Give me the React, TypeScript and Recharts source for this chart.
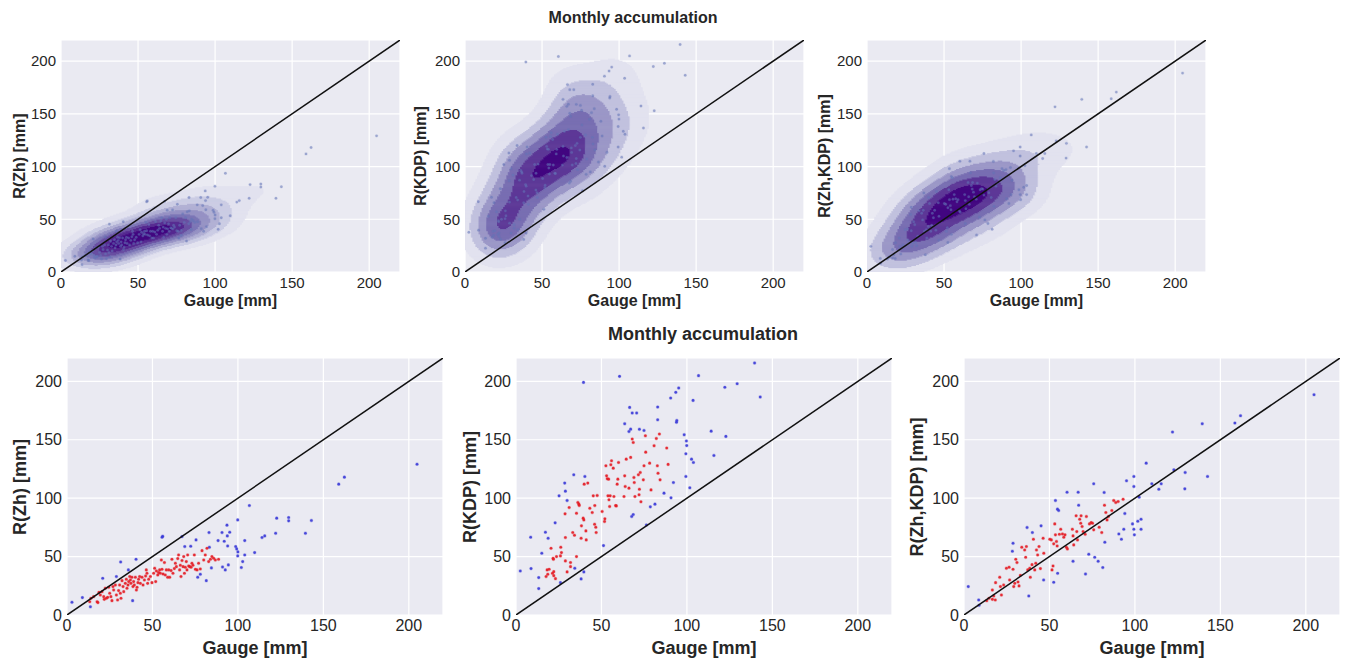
import React from 'react';
import { ScatterChart, Scatter, XAxis, YAxis, CartesianGrid } from 'recharts';

type P = [number, number];

// ---- data: [gauge mm, radar estimate mm] ----
const zhCore: P[] = [
  [13.3,11.4],[14,14.3],[15.6,15.7],[17.6,11.4],[18.1,10.6],[18.7,19.4],[19.5,17.1],[20.5,20],[21.5,15.7],[21.8,13.4],
  [22.4,22.9],[23,14.3],[23.8,15.1],[24.4,23.7],[25,18.6],[25.7,15.7],[26.3,12.3],[26.9,24.3],[27.3,21.4],[28.3,25.7],
  [28.9,17.1],[29.6,12.9],[30.2,20.9],[30.8,25.7],[31.2,18.6],[31.6,14.3],[32.2,29.4],[32.8,24.3],[33.2,20],[34.1,27.1],
  [34.7,30.6],[35.1,22.9],[35.7,25.7],[36.1,28.6],[36.7,32.9],[37.1,30],[37.4,27.1],[38,32.3],[38.6,24.3],[39,28.6],
  [39.4,25.7],[40,32.3],[40.6,21.4],[41,23.7],[41.5,27.7],[41.9,30.6],[42.5,32.9],[42.9,27.1],[43.9,32.3],[44.5,25.7],
  [45.3,30],[46,33.4],[46.4,38.6],[46.8,35.7],[47.2,27.1],[47.8,30.6],[48.8,32.9],[49.7,27.7],[50.7,35.7],[51.3,40],
  [51.9,28.6],[52.3,37.7],[53.1,34.3],[53.6,36.3],[54.2,38.6],[54.6,35.7],[55.2,47.1],[55.6,39.1],[56.2,35.1],[57,44.9],
  [57.5,34.3],[58.1,38.6],[58.9,32.3],[59.5,38.6],[60.1,32.3],[60.9,38],[61.4,47.7],[62,35.7],[62.8,39.7],[63.4,44.3],
  [64,41.4],[64.8,48.3],[65.3,51.4],[65.9,38.6],[66.3,42.6],[66.7,32.9],[67.3,46.6],[67.9,41.4],[68.3,50],[68.7,35.7],
  [69.2,40.9],[69.8,45.7],[70.2,38.6],[70.6,51.4],[71.2,42],[71.8,41.4],[72.6,40.9],[73.1,44.3],[73.7,42.6],[74.5,51.4],
  [75.1,39.1],[76.1,38.6],[77,44.3],[78,39.4],[79,55.1],[80,47.1],[80.9,51.4],[81.9,57.1],[82.9,45.7],[83.9,47.7],
  [84.8,50],[85.8,48.6],[86.8,47.1],[88.7,47.7],
];
const zhOutliers: P[] = [
  [2.9,10.9],[9,14.9],[13.7,7],[20.9,31.4],[28.9,32.9],[31.4,45.4],[35.9,38.6],[38.4,12.3],[40.4,47.7],[55.6,66.6],
  [56,67.4],[67.3,67.1],[68.9,58.6],[72.4,58.9],[75.5,64.3],[76.5,32.3],[78,34.9],[81.5,29.4],[83.1,70.6],[83.3,58],
  [84.5,40.3],[88.4,63.7],[90.7,70.6],[91,41.1],[92,63.1],[92.6,38.6],[93.6,76.9],[93.8,67.7],[94,59.1],[94.4,42.9],
  [95.2,70.9],[98.7,58.6],[99.3,56.6],[99.9,81.4],[99.9,50.6],[100,54],[102,40.6],[102.8,45.7],[104,63.7],[104,51.4],
  [106.7,93.7],[109.8,53.4],[114.1,66.3],[115.7,67.7],[122.1,70],[122.7,82.9],[129.7,83.4],[129.7,80.6],[139.5,70],[143,80.9],
  [159,112],[162.3,118],[204.8,129.1],
];

const kdpCore: P[] = [
  [18.2,38.6],[19.4,39.1],[17.6,32.9],[18.6,34.9],[21.3,35.7],[22.1,33.7],[23.1,31.1],[22.1,37.1],[20.5,57.1],[21.7,48.6],
  [21.9,47.7],[23.7,50],[26,50.6],[26.2,58],[26.6,53.4],[28.9,46.3],[28.9,66.3],[28.7,86.6],[29.9,36.9],[31.1,92],
  [31.9,44.9],[31.9,41.4],[33.2,70.6],[34.2,68.3],[35.4,50],[35.4,87.1],[36.2,96.3],[36.8,94.9],[37,93.7],[38.3,76.3],
  [38.1,65.7],[39.3,82.9],[39.7,81.4],[39.9,112],[40.9,72],[41.1,64.3],[42,112.9],[43.2,91.4],[44.6,87.7],[45.2,102],
  [46,77.7],[46.1,93.7],[46.7,75.1],[46.9,70.6],[47.5,102.3],[50.4,88.6],[51.8,80],[52,82.3],[52.6,127.7],[53,119.1],
  [53.4,116.6],[53.8,102],[54.2,116.3],[54.4,98.6],[54.8,92.9],[55.1,102],[55.5,128.6],[55.9,132],[56.9,125.7],[57.3,101.4],
  [58.3,93.7],[58.7,93.4],[59.2,112],[59.6,116.3],[60,130.6],[63.2,101.4],[63.6,119.1],[63.9,110],[64.5,133.4],[66.1,108.6],
  [67.1,134.9],[68,150.6],[68.6,147.7],[69,117.7],[69.2,113.4],[69.6,101.4],[71.6,120],[72,102.9],[72.2,107.7],[72.7,122],
  [73.1,96.9],[74.5,115.7],[74.9,127.7],[75.7,153.4],[75.9,139.4],[78.2,130],[79,107.1],[80.8,144.9],[82.1,151.1],[82.7,127.7],
  [83.1,121.4],[84.3,115.7],[83.9,154.9],[88.2,142.9],[89,128.9],
];
const kdpOutliers: P[] = [
  [2.5,37.7],[8.6,66.6],[8.8,39.7],[13.3,22.6],[13.3,32],[15.1,52.9],[17.2,70.9],[18.8,65.7],[22.9,78.9],[25.2,102],
  [26,27.7],[28.5,112.9],[28.9,106],[29.9,98],[33.8,120],[34.4,40],[38.1,30.9],[39.5,199.1],[39.7,36.9],[40.3,118.6],
  [51.2,59.4],[60.6,204.3],[63.6,163.7],[66.1,157.1],[66.5,177.7],[67.1,159.1],[67.7,84.3],[68.6,86],[68,172.9],[70.6,172.9],
  [72.2,159],[74.9,158],[76.3,77.1],[78.6,92.6],[81.3,94.9],[82.9,178],[82.9,167.1],[86.6,104.3],[90.5,185.7],[90.7,100.3],
  [92.1,113.4],[93.5,190.6],[93.9,165],[94.1,166.5],[95.2,194.3],[98.4,154.3],[99.4,138],[99.7,149],[99.9,145],[99.4,118.6],
  [101.7,108.9],[102.7,133.4],[103.8,130.6],[103.6,183.7],[106.8,204.9],[114.2,157.4],[115.8,136.6],[122.2,194.9],[122.8,152.9],[129.4,198],
  [139.6,215.7],[142.9,186.6],
];

const hybCore: P[] = [
  [13.3,12.3],[14.6,14.3],[16.6,13.4],[17.4,16.3],[18.3,12.9],[16.6,21.4],[18.5,27.7],[20.9,32.3],[21.3,24.3],[21.9,17.1],
  [23.2,25.7],[24.8,40],[26.4,40.9],[26.7,30],[28.7,39.1],[29.1,24.3],[29.7,27.1],[30.3,47.7],[31,44.9],[31.6,28.3],
  [32.2,24.9],[33,34],[33.8,58],[35.5,55.7],[36.1,49.4],[36.5,58.6],[37.3,38.6],[38.5,40],[38.8,32.3],[39.8,43.1],
  [40.6,64.9],[41.4,38.6],[42,44.3],[42.4,55.7],[43.1,51.4],[43.9,58.6],[44.7,39.7],[46.3,65.7],[46.7,52.9],[50.2,64.9],
  [51.1,64.3],[51.5,38.6],[52.1,42],[52.5,60.9],[53.1,78],[53.5,68.6],[54.1,62.9],[54.5,59.1],[55.8,69.1],[56.6,73.4],
  [57.6,69.4],[58.4,66.6],[59.1,68.6],[59.9,58],[60.5,56.6],[63.4,73.4],[63.8,67.7],[64.2,60],[65.6,84.9],[66,71.4],
  [66.4,64.3],[67.7,82],[68.3,78.6],[68.5,84.9],[69.1,75.7],[69.7,71.4],[70.9,69.1],[71.6,84.3],[73.4,78],[74.4,79.1],
  [75.2,78.6],[75.9,72.9],[79.1,75.1],[80.6,70.6],[82.2,94],[83,87.7],[83.7,81.4],[84.5,84.3],[86.5,89.4],[87.6,98],
  [88.8,96.3],[90.2,97.1],[93.1,99.1],
];
const hybOutliers: P[] = [
  [2.5,24.3],[8.6,12.9],[8.8,8.3],[28.7,61.4],[28.3,54.6],[36.9,74.9],[37.9,16.3],[40,70.6],[45.1,76.3],[46.6,30],
  [52.5,28],[53.5,98],[54.7,90.6],[55.4,89.4],[54.8,35.7],[60.3,105.1],[63.8,46],[66.8,105.1],[67.1,94],[71.1,35.1],
  [73,52],[75.9,112.3],[76.5,49.4],[78.5,46],[81.2,40.6],[82,104.9],[82.4,62.3],[90.6,69.4],[92.1,64.9],[93.5,73.4],
  [94.1,86.9],[95.1,114.9],[98.6,78],[99.4,73.4],[99.7,68.6],[99.4,118.6],[99.4,110],[101.7,80.3],[102.5,100.9],[103.6,82],
  [103.6,73.4],[106.6,130],[109.9,112.3],[114,107.7],[115.4,112.3],[122,156.6],[122.8,124.3],[129.2,108],[129.4,122],[139.4,163.7],
  [142.5,118.6],[158.5,164.3],[161.8,170.6],[204.8,188.6],
];

const TICKS = [0, 50, 100, 150, 200];
const DOMAIN: [number, number] = [0, 220];
const ONE_TO_ONE = [{ x: 0, y: 0 }, { x: 220, y: 220 }];
const TITLE = 'Monthly accumulation';
const X_LABEL = 'Gauge [mm]';
const Y_LABELS = ['R(Zh) [mm]', 'R(KDP) [mm]', 'R(Zh,KDP) [mm]'];

// ---- styling ----
const FONT = '"Liberation Sans", Arial, Helvetica, sans-serif';
const TEXT = '#262626';
const BG = '#EAEAF2';
const PURPLES = ['#fcfbfd', '#efedf5', '#dadaeb', '#bcbddc', '#9e9ac8', '#807dba', '#6a51a3', '#54278f', '#3f007d'];

function hex(c: string) { return [1, 3, 5].map((i) => parseInt(c.slice(i, i + 2), 16)); }
function purples(t: number) {
  const v = Math.max(0, Math.min(1, t)) * (PURPLES.length - 1);
  const i = Math.min(PURPLES.length - 2, Math.floor(v));
  const f = v - i;
  const a = hex(PURPLES[i]), b = hex(PURPLES[i + 1]);
  const m = a.map((x, k) => Math.round(x + (b[k] - x) * f));
  return `rgb(${m[0]},${m[1]},${m[2]})`;
}
function niceStep(raw: number) {
  const e = Math.pow(10, Math.floor(Math.log10(raw)));
  const f = raw / e;
  for (const s of [1, 2, 2.5, 5, 10]) if (s >= f - 1e-12) return s * e;
  return 10 * e;
}
function std(v: number[]) {
  const m = v.reduce((a, b) => a + b, 0) / v.length;
  return Math.sqrt(v.reduce((a, b) => a + (b - m) ** 2, 0) / (v.length - 1));
}

type Run = { x: number; y: number; len: number; band: number };

// Gaussian product-kernel KDE (Scott factor), evenly spaced contour levels, lowest level left unshaded
function kdeRuns(pts: P[]): { runs: Run[]; colors: string[] } {
  const n = pts.length;
  const fac = Math.pow(n, -1 / 6);
  const hx = std(pts.map((p) => p[0])) * fac;
  const hy = std(pts.map((p) => p[1])) * fac;
  const N = 220;
  const Kx = new Float64Array(n * N), Ky = new Float64Array(n * N);
  for (let k = 0; k < n; k++) {
    for (let i = 0; i < N; i++) {
      const dx = (i + 0.5 - pts[k][0]) / hx;
      const dy = (i + 0.5 - pts[k][1]) / hy;
      Kx[k * N + i] = Math.exp(-0.5 * dx * dx);
      Ky[k * N + i] = Math.exp(-0.5 * dy * dy);
    }
  }
  const grid = new Float64Array(N * N);
  for (let k = 0; k < n; k++) {
    const base = k * N;
    for (let j = 0; j < N; j++) {
      const ky = Ky[base + j];
      if (ky < 1e-9) continue;
      const row = j * N;
      for (let i = 0; i < N; i++) grid[row + i] += ky * Kx[base + i];
    }
  }
  let max = 0;
  for (let i = 0; i < grid.length; i++) if (grid[i] > max) max = grid[i];
  const step = niceStep(max / 11);
  const nb = Math.ceil(max / step);
  const colors: string[] = [];
  for (let k = 0; k < nb; k++) colors.push(purples(0.2 + 0.78 * (k - 1) / Math.max(1, nb - 2)));
  const runs: Run[] = [];
  for (let j = 0; j < N; j++) {
    let i = 0;
    while (i < N) {
      const bnd = Math.min(nb - 1, Math.floor(grid[j * N + i] / step));
      let e = i + 1;
      while (e < N && Math.min(nb - 1, Math.floor(grid[j * N + e] / step)) === bnd) e++;
      if (bnd >= 1) runs.push({ x: (i + e) / 2, y: j + 0.5, len: e - i, band: bnd });
      i = e;
    }
  }
  return { runs, colors };
}

const toXY = (arr: P[]) => arr.map(([x, y]) => ({ x, y }));

type RowCfg = { top: number; h: number; w: number; lefts: number[]; tickFont: number; labelFont: number; xLabelY: number; yLabelDx: number[] };
const TOP_ROW: RowCfg = { top: 40, h: 232, w: 339, lefts: [61, 465, 867], tickFont: 15, labelFont: 16, xLabelY: 301, yLabelDx: [-41, -44, -42] };
const BOT_ROW: RowCfg = { top: 358, h: 257, w: 376, lefts: [67, 516, 964], tickFont: 16, labelFont: 18, xLabelY: 648, yLabelDx: [-47, -46, -47] };

const DATASETS = [
  { core: zhCore, out: zhOutliers },
  { core: kdpCore, out: kdpOutliers },
  { core: hybCore, out: hybOutliers },
];

function Panel({ row, idx, kde }: { row: RowCfg; idx: number; kde: boolean }) {
  const YW = 60, MT = 10, MR = 6, XH = 40;
  const left = row.lefts[idx];
  const { core, out } = DATASETS[idx];
  const pxX = row.w / 220, pxY = row.h / 220;
  const all = React.useMemo(() => [...core, ...out], [core, out]);
  const dens = React.useMemo(() => (kde ? kdeRuns(all) : null), [kde, all]);
  const tick = { fill: TEXT, fontSize: row.tickFont, fontFamily: FONT };
  const kdeShape = (p: any) => {
    const w = p.payload.len * pxX + 0.7;
    const hh = pxY + 0.7;
    return <rect x={p.cx - w / 2} y={p.cy - hh / 2} width={w} height={hh} fill={dens!.colors[p.payload.band]} />;
  };
  const dot = (fill: string, r: number, op: number) => (p: any) => (
    <circle cx={p.cx} cy={p.cy} r={r} fill={fill} fillOpacity={op} stroke={fill} strokeOpacity={op * 0.3} strokeWidth={1.2} />
  );
  return (
    <>
      <div style={{ position: 'absolute', left: left - YW, top: row.top - MT }}>
        <ScatterChart width={YW + row.w + MR} height={MT + row.h + XH} margin={{ top: MT, right: MR, bottom: 0, left: 0 }}>
          <CartesianGrid stroke="#ffffff" strokeWidth={1.2} fill={BG} fillOpacity={1} />
          <XAxis type="number" dataKey="x" domain={DOMAIN} ticks={TICKS} height={XH} tickLine={false} axisLine={false} tickSize={0} tickMargin={5} tick={tick} allowDataOverflow interval={0} />
          <YAxis type="number" dataKey="y" domain={DOMAIN} ticks={TICKS} width={YW} tickLine={false} axisLine={false} tickSize={0} tickMargin={5} tick={tick} allowDataOverflow interval={0} />
          {dens && <Scatter data={dens.runs} shape={kdeShape} isAnimationActive={false} />}
          {kde ? (
            <Scatter data={toXY(all)} shape={dot('#6474b8', 1.2, 0.55)} isAnimationActive={false} />
          ) : (
            <>
              <Scatter data={toXY(out)} shape={dot('#3838d8', 1.3, 0.9)} isAnimationActive={false} />
              <Scatter data={toXY(core)} shape={dot('#e41a22', 1.3, 0.9)} isAnimationActive={false} />
            </>
          )}
          <Scatter data={ONE_TO_ONE} line={{ stroke: '#111111', strokeWidth: 1.5 }} shape={() => <g />} isAnimationActive={false} />
        </ScatterChart>
      </div>
      <div style={{ position: 'absolute', left: left + row.w / 2, top: row.xLabelY, transform: 'translate(-50%,-50%)', fontFamily: FONT, fontWeight: 'bold', fontSize: row.labelFont, color: TEXT, whiteSpace: 'nowrap' }}>{X_LABEL}</div>
      <div style={{ position: 'absolute', left: left + row.yLabelDx[idx], top: row.top + row.h / 2, transform: 'translate(-50%,-50%) rotate(-90deg)', fontFamily: FONT, fontWeight: 'bold', fontSize: row.labelFont, color: TEXT, whiteSpace: 'nowrap' }}>{Y_LABELS[idx]}</div>
    </>
  );
}

export default function App() {
  return (
    <div style={{ position: 'absolute', left: 0, top: 0, width: 1346, height: 663, background: '#ffffff', overflow: 'hidden' }}>
      <div style={{ position: 'absolute', left: 633, top: 18, transform: 'translate(-50%,-50%)', fontFamily: FONT, fontWeight: 'bold', fontSize: 16, color: TEXT, whiteSpace: 'nowrap' }}>{TITLE}</div>
      <div style={{ position: 'absolute', left: 703, top: 334, transform: 'translate(-50%,-50%)', fontFamily: FONT, fontWeight: 'bold', fontSize: 18, color: TEXT, whiteSpace: 'nowrap' }}>{TITLE}</div>
      {[0, 1, 2].map((i) => <Panel key={'t' + i} row={TOP_ROW} idx={i} kde />)}
      {[0, 1, 2].map((i) => <Panel key={'b' + i} row={BOT_ROW} idx={i} kde={false} />)}
    </div>
  );
}
